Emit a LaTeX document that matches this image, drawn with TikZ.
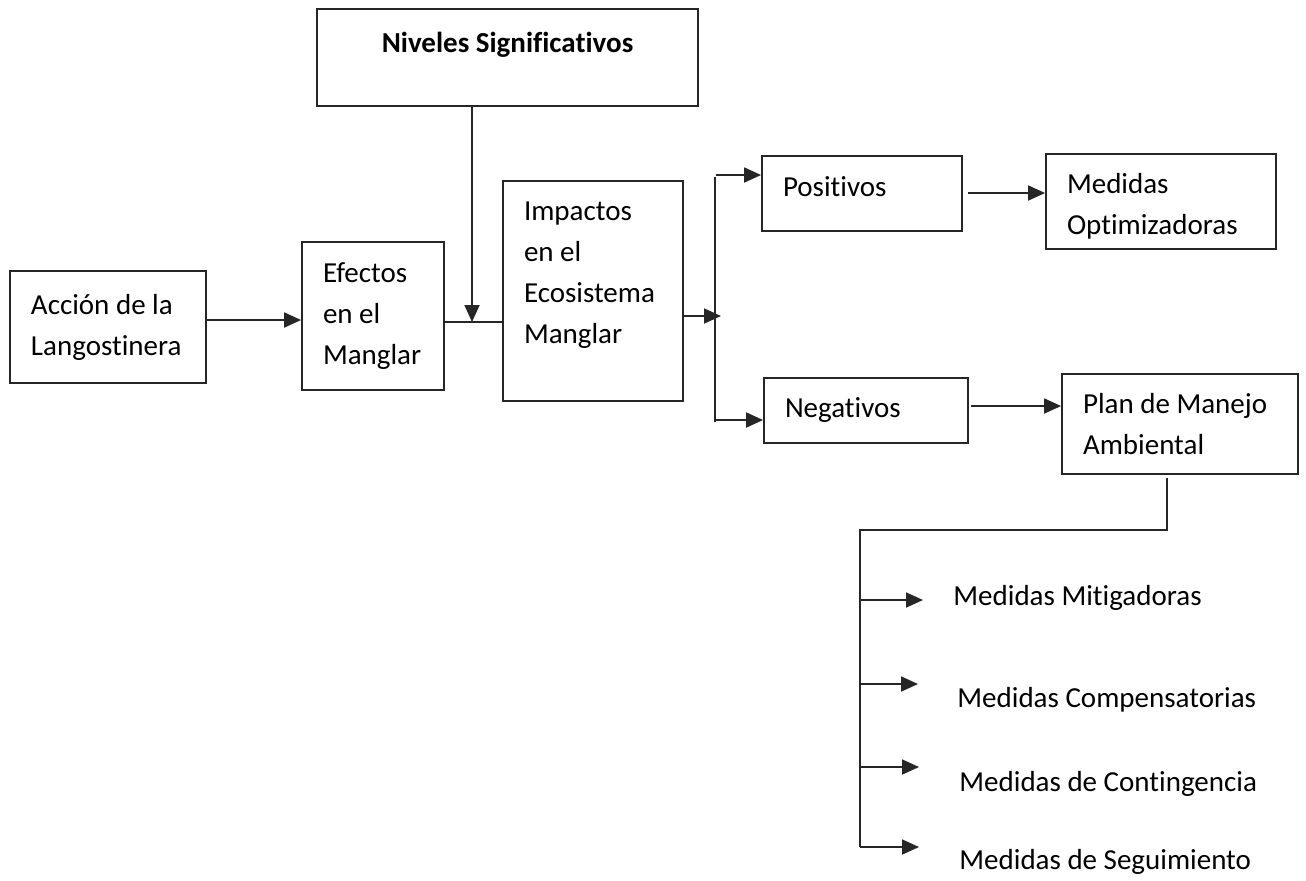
\documentclass[tikz,border=0pt]{standalone}
\usepackage{fontspec}
\setmainfont{Carlito}[Ligatures={NoCommon}]
\usetikzlibrary{arrows.meta}

\begin{document}
\begin{tikzpicture}[x=0.5pt,y=-0.5pt,
   font=\fontsize{14.5}{20.5}\selectfont,
   caja/.style={draw=black!85,line width=0.9pt,align=flush left,inner xsep=10.5pt,inner ysep=0pt},
   medida/.style={anchor=west,inner sep=0pt},
   linea/.style={line width=0.9pt,black!85},
   flecha/.style={linea,-{Triangle[length=8.5pt,width=7.5pt]}}]
   \useasboundingbox (0,0) rectangle (1306,880);
   \node[caja,text width=77pt,minimum height=56pt] (accion) at (108,327) {Acción de la\\Langostinera};
   \node[caja,text width=50pt,minimum height=74pt] (efectos) at (373,316) {Efectos\\en el\\Manglar};
   \node[caja,minimum width=190.5pt,minimum height=48.5pt,text depth=15pt] (niveles) at (507.5,57.5) {\textbf{Niveles Significativos}};
   \node[caja,text width=69pt,minimum height=110pt,text depth=80pt] (impactos) at (593,291) {Impactos\\en el\\Ecosistema\\Manglar};
   \node[caja,text width=79pt,minimum height=37.5pt,text depth=7pt] (positivos) at (862,193.5) {Positivos};
   \node[caja,text width=94pt,minimum height=47.5pt,text depth=18pt] (medopt) at (1161,201.5) {Medidas\\Optimizadoras};
   \node[caja,text width=81pt,minimum height=32.5pt] (negativos) at (866,410.5) {Negativos};
   \node[caja,text width=97pt,minimum height=50pt] (plan) at (1180,424) {Plan de Manejo\\Ambiental};
   \node[medida] (mitig) at (953,598) {Medidas Mitigadoras};
   \node[medida] (compens) at (957,700) {Medidas Compensatorias};
   \node[medida] (conting) at (959,784) {Medidas de Contingencia};
   \node[medida] (seguim) at (959,862) {Medidas de Seguimiento};

   \coordinate (cruce) at (472,322);
   \coordinate (rama) at (715,316);
   \draw[flecha] (accion.east |- 0,320) -- (efectos.west |- 0,320);
   \draw[linea] (efectos.east |- cruce) -- (impactos.west |- cruce);
   \draw[flecha] (niveles.south -| cruce) -- (cruce);
   \draw[flecha] (impactos.east |- rama) -- ([xshift=3pt]rama);
   \draw[linea] (715,177) -- (715,422);
   \draw[flecha] (716,175) -- (positivos.west |- 0,175);
   \draw[flecha] (716,420) -- (negativos.west |- 0,420);
   \draw[flecha,shorten <=2.5pt] (positivos.east |- 0,193) -- (medopt.west |- 0,193);
   \draw[flecha,shorten <=1pt] (negativos.east |- 0,406) -- (plan.west |- 0,406);
   \draw[linea,shorten <=1.5pt] (plan.south -| 1167,0) -- (1167,530) -| (860,847);
   \foreach \y/\xf in {600/923,684/918,767/919,847/919}
     \draw[flecha] (860,\y) -- (\xf,\y);
\end{tikzpicture}
\end{document}
